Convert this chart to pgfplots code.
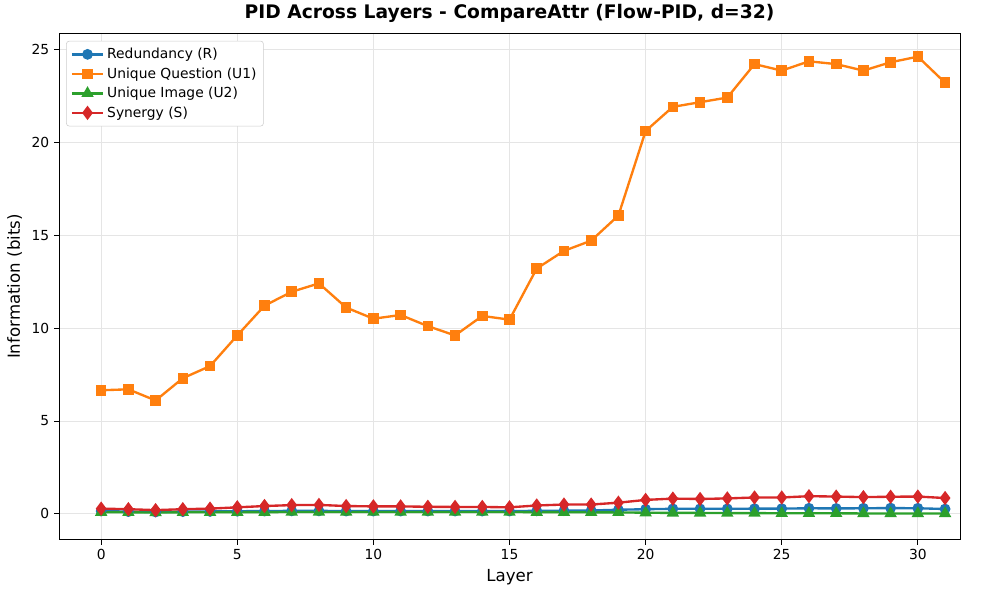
\documentclass[border=0pt]{standalone}
\usepackage{pgfplots}
\pgfplotsset{compat=1.18}
\usepackage{fontspec}
\setmainfont{DejaVu Sans}
\definecolor{tblue}{HTML}{1F77B4}
\definecolor{torange}{HTML}{FF7F0E}
\definecolor{tgreen}{HTML}{2CA02C}
\definecolor{tred}{HTML}{D62728}
\begin{document}
\begin{tikzpicture}
\begin{axis}[
  scale only axis,
  width=651pt, height=366pt,
  xmin=-1.55, xmax=31.55, ymin=-1.4, ymax=25.86,
  xtick={0,5,10,15,20,25,30},
  ytick={0,5,10,15,20,25},
  xtick pos=left, ytick pos=left,
  /pgf/number format/assume math mode=true,
  ticklabel style={font=\fontsize{10}{12}\selectfont},
  grid=major,
  major grid style={gray!20, line width=0.6pt},
  tick align=outside,
  tick style={black, line width=0.6pt},
  major tick length=3.5pt,
  axis line style={line width=0.6pt},
  xlabel={Layer}, ylabel={Information (bits)},
  label style={font=\fontsize{12}{14}\selectfont},
  title={\textbf{PID Across Layers - CompareAttr (Flow-PID, d=32)}},
  title style={font=\fontsize{13.5}{16}\selectfont, yshift=-2pt},
  legend style={font=\fontsize{10}{12}\selectfont, draw=gray!40, rounded corners=2pt, inner sep=3pt, row sep=1pt, at={(0.008,0.985)}, anchor=north west},
  legend cell align=left,
  legend image code/.code={\draw[mark repeat=2,mark phase=2] plot coordinates {(0cm,0cm)(0.4cm,0cm)(0.8cm,0cm)};},
  every axis plot/.append style={line width=1.7pt},
]
\addplot[tblue, mark=*, mark size=3pt] coordinates {
(0,0.15)(1,0.12)(2,0.10)(3,0.12)(4,0.13)(5,0.14)(6,0.15)(7,0.16)(8,0.16)(9,0.15)(10,0.15)(11,0.15)(12,0.15)(13,0.15)(14,0.15)(15,0.15)(16,0.16)(17,0.17)(18,0.18)(19,0.22)(20,0.25)(21,0.27)(22,0.27)(23,0.27)(24,0.28)(25,0.28)(26,0.30)(27,0.29)(28,0.30)(29,0.31)(30,0.30)(31,0.26)};
\addlegendentry{Redundancy (R)}
\addplot[torange, mark=square*, mark size=3pt] coordinates {
(0,6.65)(1,6.7)(2,6.1)(3,7.3)(4,7.95)(5,9.6)(6,11.2)(7,11.95)(8,12.4)(9,11.1)(10,10.5)(11,10.7)(12,10.1)(13,9.6)(14,10.65)(15,10.45)(16,13.2)(17,14.15)(18,14.7)(19,16.05)(20,20.6)(21,21.9)(22,22.15)(23,22.4)(24,24.2)(25,23.85)(26,24.35)(27,24.2)(28,23.85)(29,24.3)(30,24.6)(31,23.2)};
\addlegendentry{Unique Question (U1)}
\addplot[tgreen, mark=triangle*, mark size=3.5pt] coordinates {
(0,0.09)(1,0.08)(2,0.07)(3,0.08)(4,0.09)(5,0.09)(6,0.09)(7,0.10)(8,0.10)(9,0.10)(10,0.10)(11,0.10)(12,0.10)(13,0.10)(14,0.10)(15,0.10)(16,0.09)(17,0.09)(18,0.08)(19,0.08)(20,0.06)(21,0.05)(22,0.05)(23,0.04)(24,0.04)(25,0.03)(26,0.03)(27,0.03)(28,0.02)(29,0.02)(30,0.02)(31,0.02)};
\addlegendentry{Unique Image (U2)}
\addplot[tred, mark=diamond*, mark size=3.8pt] coordinates {
(0,0.28)(1,0.25)(2,0.2)(3,0.25)(4,0.28)(5,0.35)(6,0.42)(7,0.47)(8,0.48)(9,0.42)(10,0.4)(11,0.4)(12,0.38)(13,0.37)(14,0.37)(15,0.35)(16,0.45)(17,0.5)(18,0.5)(19,0.6)(20,0.75)(21,0.82)(22,0.8)(23,0.83)(24,0.88)(25,0.88)(26,0.95)(27,0.93)(28,0.9)(29,0.92)(30,0.93)(31,0.85)};
\addlegendentry{Synergy (S)}
\end{axis}
\path (current axis.south west) ++(-42.6pt,-38.3pt) coordinate (bbA);
\path (current axis.north east) ++(26.7pt,23.8pt) coordinate (bbB);
\end{tikzpicture}
\end{document}
